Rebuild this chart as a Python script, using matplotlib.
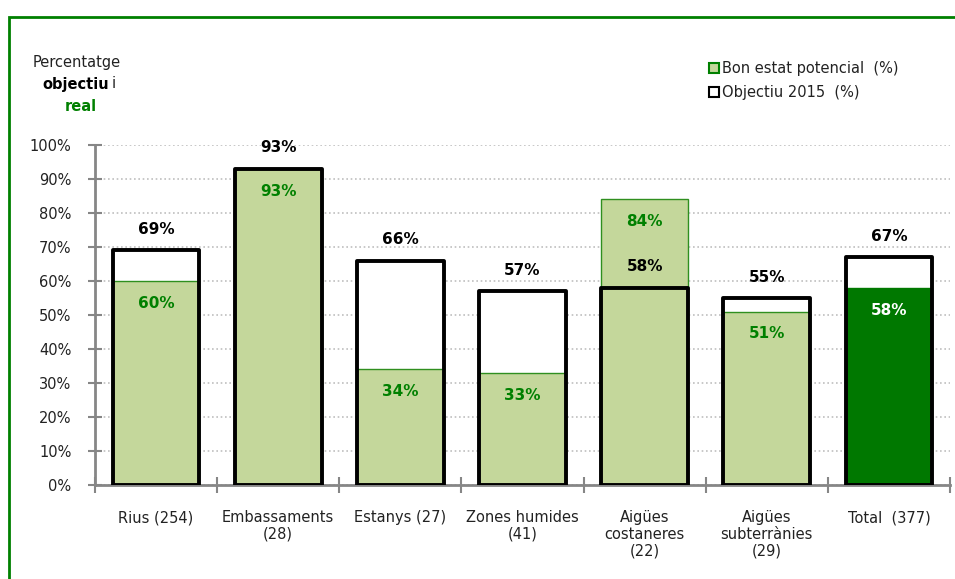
import numpy as np
import matplotlib
matplotlib.use("Agg")
import matplotlib.pyplot as plt
from matplotlib.patches import Rectangle

# Data
categories = ["Rius (254)", "Embassaments\n(28)", "Estanys (27)", "Zones humides\n(41)",
              "Aigües\ncostaneres\n(22)", "Aigües\nsubterrànies\n(29)", "Total  (377)"]
bon_estat = [60, 93, 34, 33, 84, 51, 58]      # Bon estat potencial (%)
objectiu = [69, 93, 66, 57, 58, 55, 67]       # Objectiu 2015 (%)

LIGHT_GREEN = "#c4d79b"
EDGE_GREEN = "#2f8f1f"
DARK_GREEN = "#007800"
TEXT_GREEN = "#008000"
GREY = "#868686"

plt.rcParams["font.family"] = ["DejaVu Sans"]

fig = plt.figure(figsize=(9.55, 5.79), dpi=100)
ax = fig.add_axes([0.0995, 0.1623, 0.8953, 0.5873])

x = np.arange(len(categories))
width = 0.71
n = len(categories)

# objective boxes: white fill underneath
ax.bar(x, objectiu, width, color="white", edgecolor="none", zorder=2)

# achieved state bars
fill_colors = [LIGHT_GREEN] * (n - 1) + [DARK_GREEN]
edge_colors = [EDGE_GREEN] * (n - 1) + [DARK_GREEN]
ax.bar(x, bon_estat, width, color=fill_colors, edgecolor=edge_colors,
       linewidth=1.0, zorder=3)

# objective outlines on top
ax.bar(x, objectiu, width, color="none", edgecolor="black", linewidth=2.8,
       zorder=4, joinstyle="round")

# value labels
for i in range(n):
    txt_col = "white" if i == n - 1 else TEXT_GREEN
    ax.annotate(f"{bon_estat[i]}%", (x[i], bon_estat[i]), xytext=(0, -16),
                textcoords="offset points", ha="center", va="center",
                fontsize=11, fontweight="bold", color=txt_col, zorder=5)
    ax.annotate(f"{objectiu[i]}%", (x[i], objectiu[i]), xytext=(0, 15),
                textcoords="offset points", ha="center", va="center",
                fontsize=11, fontweight="bold", color="black", zorder=5)

ax.set_xlim(-0.5, n - 0.5)
ax.set_ylim(0, 100)
ax.set_yticks(np.arange(0, 101, 10))
ax.set_yticklabels([f"{v}%" for v in range(0, 101, 10)])
ax.yaxis.grid(True, linestyle=(0, (1.0, 1.6)), color="#bfbfbf", linewidth=1.2)
ax.set_axisbelow(True)

ax.set_xticks(np.arange(-0.5, n, 1.0))
ax.set_xticklabels([])
ax.set_xticks(x, minor=True)
ax.set_xticklabels(categories, minor=True, fontsize=10.5, color="#222222",
                   linespacing=1.15, va="top")
ax.tick_params(axis="x", which="major", direction="inout", length=11, width=1.5,
               color=GREY)
ax.tick_params(axis="x", which="minor", length=0, pad=18)
ax.tick_params(axis="y", direction="inout", length=10, width=1.5, color=GREY,
               labelsize=10.5, labelcolor="#222222", pad=12)

for s in ["top", "right"]:
    ax.spines[s].set_visible(False)
for s in ["left", "bottom"]:
    ax.spines[s].set_color(GREY)
    ax.spines[s].set_linewidth(2)

# green frame around the chart area
fig.add_artist(Rectangle((8.5 / 955, -0.05), 1.1, (579 - 17) / 579 + 0.05,
                         transform=fig.transFigure, fill=False,
                         edgecolor="#008000", linewidth=2, zorder=0))

# upper-left caption
fig.text(77 / 955, 1 - 63 / 579, "Percentatge", ha="center", va="center",
         fontsize=10.5, color="#222222")
fig.text(109 / 955, 1 - 84 / 579, "objectiu", ha="right", va="center",
         fontsize=10.5, fontweight="bold", color="black")
fig.text(112 / 955, 1 - 84 / 579, "i", ha="left", va="center",
         fontsize=10.5, color="#222222")
fig.text(81 / 955, 1 - 106 / 579, "real", ha="center", va="center",
         fontsize=10.5, fontweight="bold", color=TEXT_GREEN)

# legend (manual)
fig.add_artist(Rectangle((709 / 955, 1 - 73 / 579), 10 / 955, 10 / 579,
                         transform=fig.transFigure, facecolor=LIGHT_GREEN,
                         edgecolor=TEXT_GREEN, linewidth=1.5))
fig.text(722 / 955, 1 - 68 / 579, "Bon estat potencial  (%)", ha="left",
         va="center", fontsize=10.5, color="#222222")
fig.add_artist(Rectangle((709 / 955, 1 - 97 / 579), 10 / 955, 10 / 579,
                         transform=fig.transFigure, facecolor="white",
                         edgecolor="black", linewidth=1.5))
fig.text(722 / 955, 1 - 92 / 579, "Objectiu 2015  (%)", ha="left",
         va="center", fontsize=10.5, color="#222222")

fig.savefig("out.png", dpi=100)
